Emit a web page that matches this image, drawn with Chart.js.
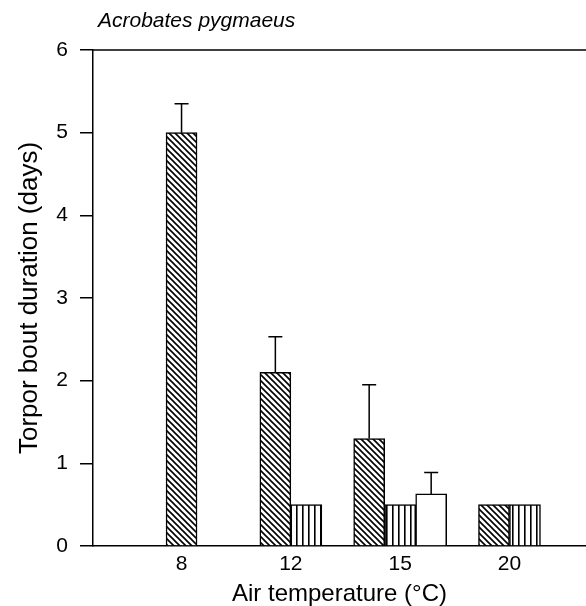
<!DOCTYPE html>
<html>
<head>
<meta charset="utf-8">
<script src="https://cdn.jsdelivr.net/npm/chart.js@4"></script>
<style>
  html, body { margin: 0; padding: 0; background: #fff; }
  #wrap { width: 586px; height: 606px; }
</style>
</head>
<body>
<div id="wrap"><canvas id="myChart" width="586" height="606"></canvas></div>
<script>
// data
const temps = ['8', '12', '15', '20'];
const hatchedMeans = [5.0, 2.1, 1.3, 0.5];
const hatchedErr = [0.35, 0.43, 0.65, null];
const stripedMeans = [null, 0.5, 0.5, 0.5];
const stripedErr = [null, null, null, null];
const openMeans = [null, null, 0.63, null];
const openErr = [null, null, 0.26, null];

const FONT = "'Liberation Sans', Arial, sans-serif";

// hatch fills
function diagPattern() {
    const c = document.createElement('canvas');
    c.width = 6; c.height = 6;
    const g = c.getContext('2d');
    g.fillStyle = '#fff';
    g.fillRect(0, 0, 6, 6);
    g.strokeStyle = '#000';
    g.lineWidth = 1.6;
    g.beginPath();
    g.moveTo(-1, -1); g.lineTo(7, 7);
    g.moveTo(-4, 2); g.lineTo(4, 10);
    g.moveTo(2, -4); g.lineTo(10, 4);
    g.stroke();
    return g.createPattern(c, 'repeat');
}

function vertPattern() {
    const c = document.createElement('canvas');
    c.width = 6; c.height = 6;
    const g = c.getContext('2d');
    g.fillStyle = '#fff';
    g.fillRect(0, 0, 6, 6);
    g.fillStyle = '#000';
    g.fillRect(2, 0, 1.6, 6);
    return g.createPattern(c, 'repeat');
}

function toPoints(arr) {
    return arr.map((v, i) => ({x: i + 1, y: v}));
}

// error bars (upper only), drawn from each bar's own element
const errorBars = {
    id: 'errorBars',
    afterDatasetsDraw(chart) {
        const ctx = chart.ctx;
        const yScale = chart.scales.y;
        ctx.save();
        ctx.strokeStyle = '#000';
        ctx.lineWidth = 1.5;
        chart.data.datasets.forEach((ds, di) => {
            const meta = chart.getDatasetMeta(di);
            meta.data.forEach((bar, i) => {
                const v = ds.data[i].y;
                const e = ds.errors[i];
                if (v == null || e == null) return;
                const top = yScale.getPixelForValue(v + e);
                ctx.beginPath();
                ctx.moveTo(bar.x, bar.y);
                ctx.lineTo(bar.x, top);
                ctx.moveTo(bar.x - 7, top);
                ctx.lineTo(bar.x + 7, top);
                ctx.stroke();
            });
        });
        ctx.restore();
    }
};

// top frame line + species name
const frame = {
    id: 'frame',
    afterDraw(chart) {
        const {ctx, chartArea} = chart;
        ctx.save();
        ctx.strokeStyle = '#000';
        ctx.lineWidth = 1.5;
        ctx.beginPath();
        ctx.moveTo(chartArea.left, chartArea.top);
        ctx.lineTo(chartArea.right, chartArea.top);
        ctx.stroke();
        ctx.fillStyle = '#000';
        ctx.font = 'italic 21px ' + FONT;
        ctx.textBaseline = 'alphabetic';
        ctx.fillText('Acrobates pygmaeus', 98, 27);
        ctx.restore();
    }
};

const data = {
    datasets: [
        {
            label: 'hatched',
            data: toPoints(hatchedMeans),
            errors: hatchedErr,
            backgroundColor: diagPattern(),
        },
        {
            label: 'striped',
            data: toPoints(stripedMeans),
            errors: stripedErr,
            backgroundColor: vertPattern(),
        },
        {
            label: 'open',
            data: toPoints(openMeans),
            errors: openErr,
            backgroundColor: '#fff',
        },
    ]
};

const config = {
    type: 'bar',
    data: data,
    options: {
        responsive: false,
        animation: false,
        layout: {padding: {top: 50, right: 0, bottom: 0, left: 0}},
        datasets: {
            bar: {
                skipNull: true,
                barThickness: 31,
                borderColor: '#000',
                borderWidth: 1.5,
                borderSkipped: 'start',
            }
        },
        plugins: {
            legend: {display: false},
            tooltip: {enabled: false},
        },
        scales: {
            x: {
                type: 'linear',
                offset: false,
                min: 0.19,
                max: 4.70,
                afterBuildTicks: (s) => { s.ticks = temps.map((t, i) => ({value: i + 1})); },
                afterFit: (s) => { s.height = 60; },
                ticks: {
                    color: '#000',
                    font: {family: FONT, size: 21},
                    padding: 6,
                    callback: (v) => temps[v - 1],
                },
                grid: {display: false, drawTicks: false, offset: false},
                border: {display: true, color: '#000', width: 1.5},
                title: {
                    display: true,
                    text: 'Air temperature (°C)',
                    color: '#000',
                    font: {family: FONT, size: 24, lineHeight: 1},
                    padding: {top: 0, bottom: 0},
                },
            },
            y: {
                min: 0,
                max: 6,
                afterFit: (s) => { s.width = 93; },
                ticks: {
                    stepSize: 1,
                    color: '#000',
                    font: {family: FONT, size: 21},
                    padding: 12,
                },
                grid: {
                    display: true,
                    drawOnChartArea: false,
                    drawTicks: true,
                    tickLength: 13,
                    color: '#000',
                    lineWidth: 1.5,
                },
                border: {display: true, color: '#000', width: 1.5},
                title: {
                    display: true,
                    text: 'Torpor bout duration (days)',
                    color: '#000',
                    font: {family: FONT, size: 26, lineHeight: 1.2},
                    padding: {top: 14, bottom: 0},
                },
            }
        }
    },
    plugins: [errorBars, frame],
};

const myChart = new Chart(document.getElementById('myChart'), config);
</script>
</body>
</html>
